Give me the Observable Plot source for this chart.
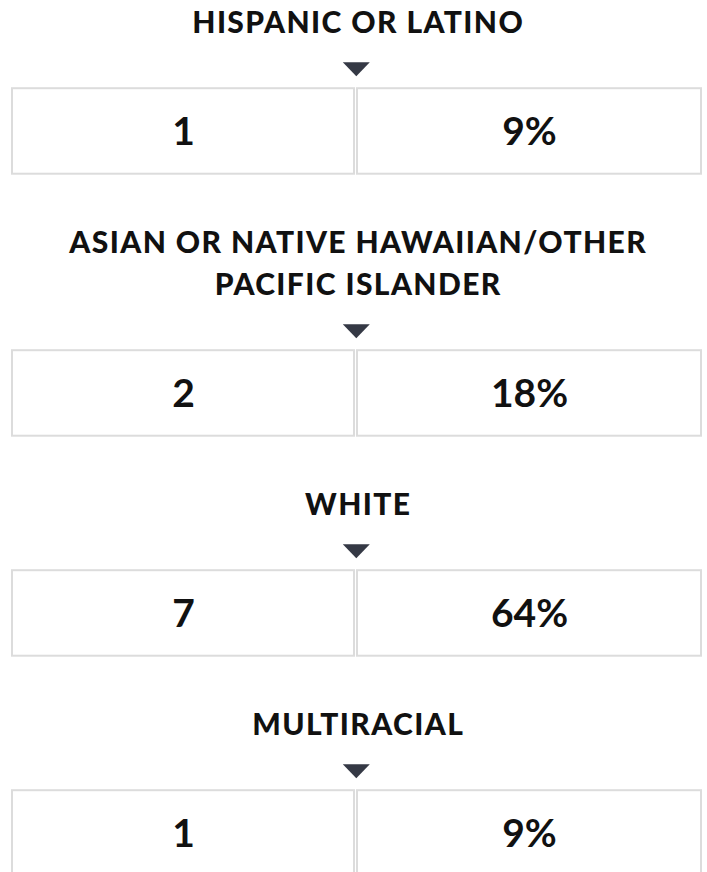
<!DOCTYPE html>
<html>
<head>
<meta charset="utf-8">
<script src="https://cdn.jsdelivr.net/npm/d3@7"></script>
<script src="https://cdn.jsdelivr.net/npm/@observablehq/plot@0.6"></script>
<style>
  html, body { margin: 0; padding: 0; background: #fff; }
  #chart { width: 707px; }
</style>
</head>
<body>
<div id="chart"></div>
<script>
// ---- data ----
const categories = [
  "HISPANIC OR LATINO",
  "ASIAN OR NATIVE HAWAIIAN/OTHER\nPACIFIC ISLANDER",
  "WHITE",
  "MULTIRACIAL"
];
const counts = [1, 2, 7, 1];
const percents = [9, 18, 64, 9];
const columns = ["count", "percent"];

// ---- layout (pixels) ----
const W = 707, H = 872;
const boxLeft = 12, boxRight = 701, boxMid = 355.5, cellGap = 1.5;
const firstTitleTop = 10.7, lineStep = 42, capH = 21.5;
const capToTri = 29.5, triH = 14, triToBox = 12.5, boxH = 85.5, boxToNext = 57;
const titleSize = 30, titleSpacing = 1.4, valueSize = 39;

const titleLines = [], triangles = [], cells = [], values = [];
let sectionTop = firstTitleTop;
categories.forEach((cat, i) => {
  const lines = cat.split("\n");
  lines.forEach((t, j) => titleLines.push({text: t, y: sectionTop + j * lineStep + capH / 2}));
  const capBottom = sectionTop + (lines.length - 1) * lineStep + capH;
  const triTop = capBottom + capToTri;
  triangles.push({y: triTop + triH / 2});
  const boxTop = triTop + triH + triToBox;
  const boxBottom = boxTop + boxH;
  columns.forEach((c, k) => {
    const x1 = k === 0 ? boxLeft : boxMid + cellGap;
    const x2 = k === 0 ? boxMid - cellGap : boxRight;
    cells.push({x1, x2, y1: boxTop, y2: boxBottom});
    values.push({x: (x1 + x2) / 2, y: (boxTop + boxBottom) / 2,
      label: c === "count" ? String(counts[i]) : percents[i] + "%"});
  });
  sectionTop = boxBottom + boxToNext;
});

const flatTriangle = {
  draw(ctx) {
    ctx.moveTo(-13.5, -triH / 2);
    ctx.lineTo(13.5, -triH / 2);
    ctx.lineTo(0, triH / 2);
    ctx.closePath();
  }
};

const plot = Plot.plot({
  width: W,
  height: H,
  margin: 0,
  x: {domain: [0, W], range: [0, W], axis: null},
  y: {domain: [0, H], range: [0, H], axis: null},
  style: {background: "#fff", fontFamily: "Lato"},
  marks: [
    Plot.rect(cells, {x1: "x1", x2: "x2", y1: "y1", y2: "y2",
      fill: "#fff", stroke: "#dcdcdc", strokeWidth: 2}),
    Plot.dot(triangles, {x: () => 355.8, y: "y",
      symbol: flatTriangle, fill: "#353945", stroke: "none", r: 10}),
    Plot.text(titleLines, {x: () => 357 + titleSpacing / 2, y: "y", text: "text",
      fontFamily: "Lato", fontWeight: 900, fontSize: titleSize, fill: "#111",
      dy: 1.1}),
    Plot.text(values, {x: "x", y: "y", text: "label",
      fontFamily: "Lato", fontWeight: 700, fontSize: valueSize, fill: "#111",
      dy: 1})
  ]
});

// first text group holds the titles: add tracking
const textGroups = plot.querySelectorAll('g[aria-label="text"]');
if (textGroups.length) {
  d3.select(textGroups[0]).style("letter-spacing", titleSpacing + "px")
    .selectAll("text").style("letter-spacing", titleSpacing + "px");
}

document.getElementById("chart").appendChild(plot);
</script>
</body>
</html>
